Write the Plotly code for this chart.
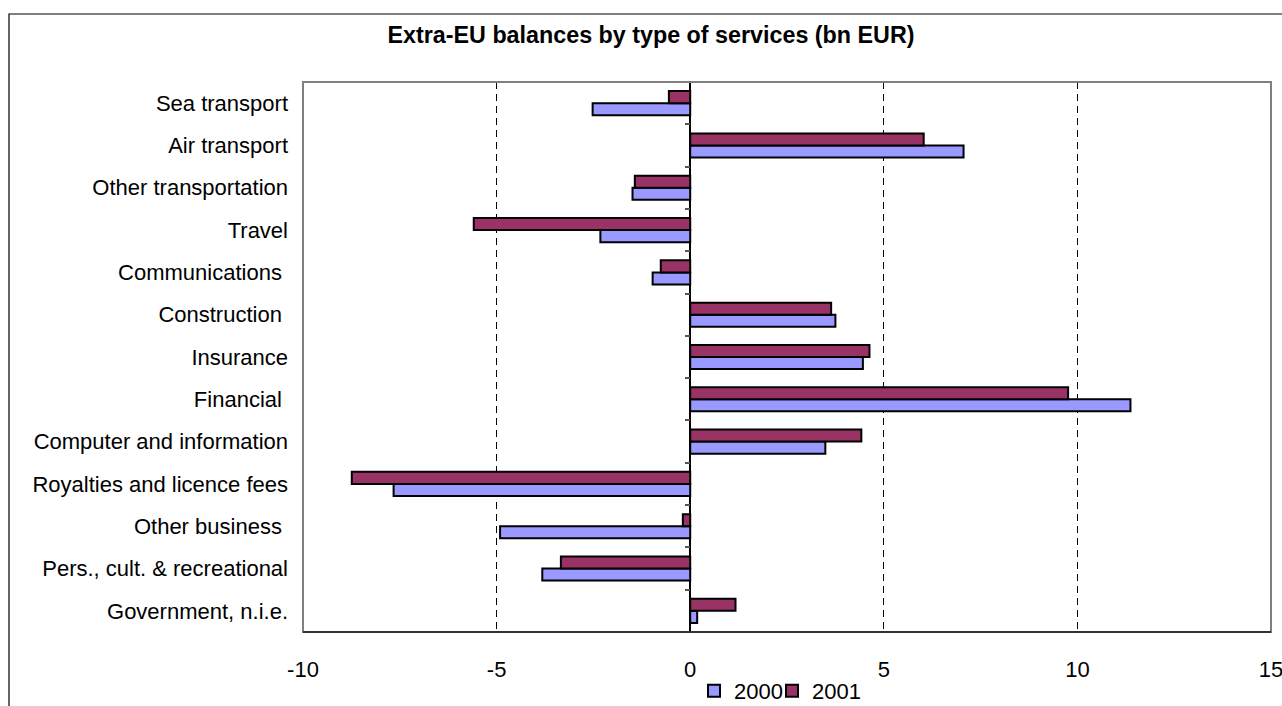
import plotly.graph_objects as go

categories = [
    "Sea transport",
    "Air transport",
    "Other transportation",
    "Travel",
    "Communications ",
    "Construction ",
    "Insurance",
    "Financial ",
    "Computer and information",
    "Royalties and licence fees",
    "Other business ",
    "Pers., cult. & recreational",
    "Government, n.i.e.",
]
values_2000 = [-2.52, 7.06, -1.49, -2.32, -0.97, 3.75, 4.46, 11.37, 3.49, -7.66, -4.91, -3.82, 0.18]
values_2001 = [-0.55, 6.03, -1.43, -5.59, -0.76, 3.64, 4.63, 9.76, 4.42, -8.74, -0.19, -3.34, 1.17]
series_names = ["2000", "2001"]
x_ticks = [-10, -5, 0, 5, 10, 15]
title_text = "Extra-EU balances by type of services (bn EUR)"

FONT = "Liberation Sans, Arial, sans-serif"
W, H = 1282, 706
L, R, T, B = 303, 11, 82, 74
pw, ph = W - L - R, H - T - B

def px_x(p):
    return (p - L) / pw

def px_y(p):
    return (H - B - p) / ph

order = list(reversed(categories))

fig = go.Figure()
fig.add_trace(go.Bar(
    y=categories, x=values_2000, name=series_names[0], orientation="h",
    marker=dict(color="#9999FF", line=dict(color="black", width=2)),
    legendwidth=33,
))
fig.add_trace(go.Bar(
    y=categories, x=values_2001, name=series_names[1], orientation="h",
    marker=dict(color="#993366", line=dict(color="black", width=2)),
))
# invisible helper for the category ticks on the zero axis
fig.add_trace(go.Scatter(
    y=categories, x=[0] * len(categories), yaxis="y2", mode="markers",
    marker=dict(opacity=0), showlegend=False, hoverinfo="skip",
))

fig.update_layout(
    width=W, height=H,
    margin=dict(l=L, r=R, t=T, b=B, pad=0, autoexpand=False),
    paper_bgcolor="white", plot_bgcolor="white",
    barmode="group", bargap=0.43, bargroupgap=0,
    font=dict(family=FONT, size=22, color="black"),
    title=dict(text="<b>" + title_text + "</b>", font=dict(family=FONT, size=23.3, color="black"),
               xref="paper", x=px_x(651), xanchor="center",
               yref="container", y=1 - 35 / H, yanchor="middle"),
    xaxis=dict(range=[-10, 15], tickvals=x_ticks, ticktext=[str(v) for v in x_ticks],
               showgrid=True, gridcolor="black", griddash="7px,5px", gridwidth=1,
               zeroline=True, zerolinecolor="black", zerolinewidth=1.5,
               showline=False, ticks="", ticklabelstandoff=22, automargin=False,
               ticklabeloverflow="allow", tickfont=dict(size=22)),
    yaxis=dict(categoryorder="array", categoryarray=order, range=[-0.5, len(categories) - 0.5],
               showgrid=False, zeroline=False, showline=False, ticks="", automargin=False,
               ticklabelstandoff=14, tickfont=dict(size=22)),
    yaxis2=dict(overlaying="y", anchor="free", position=(0 - (-10)) / 25,
                categoryorder="array", categoryarray=order, range=[-0.5, len(categories) - 0.5],
                showticklabels=False, ticks="outside", tickson="boundaries", ticklen=5,
                tickcolor="#555555", tickwidth=1.5, showgrid=False, zeroline=False,
                showline=False, side="left", automargin=False),
    legend=dict(orientation="h", x=px_x(694), xanchor="left", y=px_y(670), yanchor="top",
                font=dict(size=22), bgcolor="rgba(0,0,0,0)", itemwidth=30,
                tracegroupgap=0),
    showlegend=True,
    shapes=[
        dict(type="rect", xref="paper", yref="paper", x0=0, x1=1, y0=0, y1=1,
             line=dict(color="#808080", width=2), layer="above"),
        dict(type="line", xref="paper", yref="paper", x0=0, x1=1, y0=0, y1=0,
             line=dict(color="#333333", width=2), layer="above"),
        dict(type="rect", xref="paper", yref="paper", x0=px_x(9), x1=px_x(W + 20),
             y0=px_y(H + 20), y1=px_y(14), line=dict(color="black", width=1.2), layer="above"),
    ],
)

fig.write_html("out.html")
